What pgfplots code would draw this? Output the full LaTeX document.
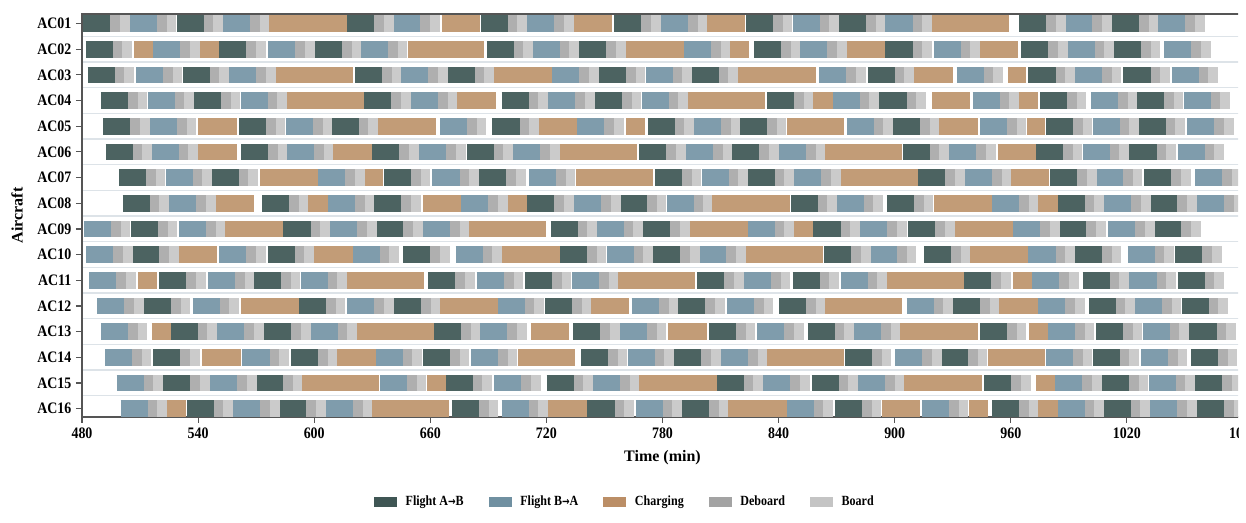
\documentclass[border=0pt]{standalone}
\usepackage{fontspec}
\setmainfont{Liberation Serif}
\newfontfamily\tickfont{Liberation Serif}[FakeStretch=0.87]
\newfontfamily\legfont{Liberation Serif}[FakeStretch=0.86]
\newfontfamily\arr{DejaVu Sans}[FakeStretch=0.8]
\usepackage{pgfplots}
\usepackage{pgfplotstable}
\pgfplotsset{compat=1.18}
\definecolor{cA}{HTML}{4C6361}
\definecolor{cB}{HTML}{7F9CAC}
\definecolor{cC}{HTML}{C29C77}
\definecolor{cD}{HTML}{AFAFAF}
\definecolor{cE}{HTML}{CBCBCB}
\definecolor{lA}{HTML}{3F5654}
\definecolor{lB}{HTML}{7090A1}
\definecolor{lC}{HTML}{BB8E66}
\definecolor{lD}{HTML}{A3A3A3}
\definecolor{lE}{HTML}{C4C4C4}
\definecolor{gridc}{HTML}{DDE3E8}
\definecolor{axc}{HTML}{555555}

% Flight A->B start times (min), duration 14
\pgfplotstableread[row sep=\\]{
y s \\
1 480.7 \\ 1 528.9 \\ 1 617.1 \\ 1 686.0 \\ 1 755.1 \\ 1 823.1 \\ 1 871.2 \\ 1 964.4 \\ 1 1012.3 \\
2 481.9 \\ 2 551.0 \\ 2 600.4 \\ 2 689.1 \\ 2 737.0 \\ 2 827.3 \\ 2 895.2 \\ 2 965.3 \\ 2 1013.2 \\
3 482.9 \\ 3 532.0 \\ 3 621.1 \\ 3 669.0 \\ 3 747.2 \\ 3 795.1 \\ 3 886.0 \\ 3 969.1 \\ 3 1018.2 \\
4 489.8 \\ 4 537.9 \\ 4 625.9 \\ 4 696.9 \\ 4 745.1 \\ 4 834.2 \\ 4 892.1 \\ 4 975.1 \\ 4 1025.2 \\
5 491.0 \\ 5 561.1 \\ 5 609.0 \\ 5 692.1 \\ 5 772.3 \\ 5 820.0 \\ 5 899.3 \\ 5 978.2 \\ 5 1026.1 \\
6 492.2 \\ 6 562.2 \\ 6 630.0 \\ 6 678.8 \\ 6 768.0 \\ 6 816.1 \\ 6 904.1 \\ 6 973.0 \\ 6 1021.3 \\
7 499.1 \\ 7 547.0 \\ 7 636.1 \\ 7 685.2 \\ 7 776.1 \\ 7 824.0 \\ 7 912.2 \\ 7 980.3 \\ 7 1029.0 \\
8 501.0 \\ 8 573.2 \\ 8 631.1 \\ 8 710.1 \\ 8 758.0 \\ 8 846.2 \\ 8 896.0 \\ 8 984.2 \\ 8 1032.1 \\
9 505.2 \\ 9 584.1 \\ 9 632.0 \\ 9 722.2 \\ 9 770.1 \\ 9 858.0 \\ 9 907.0 \\ 9 985.1 \\ 9 1034.2 \\
10 506.0 \\ 10 575.9 \\ 10 646.1 \\ 10 727.0 \\ 10 775.3 \\ 10 863.5 \\ 10 915.3 \\ 10 993.2 \\ 10 1045.0 \\
11 520.0 \\ 11 568.9 \\ 11 659.0 \\ 11 708.9 \\ 11 798.0 \\ 11 847.3 \\ 11 936.0 \\ 11 997.1 \\ 11 1046.2 \\
12 512.0 \\ 12 592.1 \\ 12 641.2 \\ 12 719.3 \\ 12 788.2 \\ 12 840.2 \\ 12 930.3 \\ 12 1000.2 \\ 12 1048.3 \\
13 525.8 \\ 13 574.1 \\ 13 661.9 \\ 13 733.9 \\ 13 804.0 \\ 13 855.0 \\ 13 944.1 \\ 13 1004.0 \\ 13 1052.3 \\
14 516.9 \\ 14 588.0 \\ 14 656.1 \\ 14 737.9 \\ 14 786.1 \\ 14 874.3 \\ 14 923.9 \\ 14 1002.3 \\ 14 1053.1 \\
15 522.0 \\ 15 569.9 \\ 15 667.9 \\ 15 720.1 \\ 15 808.0 \\ 15 857.1 \\ 15 946.3 \\ 15 1007.1 \\ 15 1055.2 \\
16 534.1 \\ 16 582.0 \\ 16 671.1 \\ 16 741.2 \\ 16 790.2 \\ 16 869.1 \\ 16 950.3 \\ 16 1008.0 \\ 16 1056.1 \\
}\flA

% Flight B->A start times (min), duration 14
\pgfplotstableread[row sep=\\]{
y s \\
1 504.8 \\ 1 553.0 \\ 1 640.9 \\ 1 710.1 \\ 1 779.2 \\ 1 847.3 \\ 1 895.2 \\ 1 988.2 \\ 1 1036.1 \\
2 516.9 \\ 2 576.3 \\ 2 624.2 \\ 2 712.9 \\ 2 791.1 \\ 2 851.1 \\ 2 920.1 \\ 2 989.4 \\ 2 1039.3 \\
3 507.9 \\ 3 556.0 \\ 3 644.9 \\ 3 723.1 \\ 3 771.3 \\ 3 861.0 \\ 3 932.0 \\ 3 993.2 \\ 3 1043.1 \\
4 513.9 \\ 4 562.0 \\ 4 650.0 \\ 4 721.0 \\ 4 769.2 \\ 4 867.9 \\ 4 940.3 \\ 4 1001.4 \\ 4 1049.3 \\
5 515.1 \\ 5 585.3 \\ 5 665.0 \\ 5 736.0 \\ 5 796.3 \\ 5 875.2 \\ 5 944.1 \\ 5 1002.3 \\ 5 1051.1 \\
6 516.0 \\ 6 586.1 \\ 6 654.2 \\ 6 702.9 \\ 6 792.1 \\ 6 840.2 \\ 6 928.2 \\ 6 997.1 \\ 6 1046.2 \\
7 523.2 \\ 7 602.1 \\ 7 661.1 \\ 7 711.0 \\ 7 800.2 \\ 7 848.1 \\ 7 936.3 \\ 7 1004.0 \\ 7 1055.2 \\
8 525.1 \\ 8 607.0 \\ 8 675.9 \\ 8 734.3 \\ 8 782.1 \\ 8 870.0 \\ 8 950.3 \\ 8 1008.3 \\ 8 1056.1 \\
9 481.0 \\ 9 530.1 \\ 9 608.2 \\ 9 656.1 \\ 9 746.0 \\ 9 824.0 \\ 9 882.1 \\ 9 961.3 \\ 9 1010.4 \\
10 482.1 \\ 10 551.0 \\ 10 619.9 \\ 10 673.1 \\ 10 751.1 \\ 10 799.0 \\ 10 887.2 \\ 10 969.1 \\ 10 1020.4 \\
11 483.8 \\ 11 545.0 \\ 11 593.0 \\ 11 684.0 \\ 11 733.1 \\ 11 822.1 \\ 11 872.1 \\ 11 971.0 \\ 11 1021.3 \\
12 487.9 \\ 12 537.2 \\ 12 617.1 \\ 12 694.8 \\ 12 764.1 \\ 12 813.2 \\ 12 906.2 \\ 12 974.2 \\ 12 1024.2 \\
13 489.8 \\ 13 549.9 \\ 13 598.2 \\ 13 685.8 \\ 13 758.0 \\ 13 829.0 \\ 13 879.1 \\ 13 979.1 \\ 13 1028.1 \\
14 491.9 \\ 14 562.9 \\ 14 631.8 \\ 14 681.0 \\ 14 762.0 \\ 14 810.1 \\ 14 900.2 \\ 14 978.2 \\ 14 1027.3 \\
15 497.9 \\ 15 546.2 \\ 15 634.0 \\ 15 693.1 \\ 15 744.2 \\ 15 832.1 \\ 15 881.1 \\ 15 983.0 \\ 15 1031.2 \\
16 500.0 \\ 16 558.2 \\ 16 606.1 \\ 16 696.9 \\ 16 766.1 \\ 16 844.2 \\ 16 914.1 \\ 16 984.2 \\ 16 1032.1 \\
}\flB

% Charging: start and duration (min)
\pgfplotstableread[row sep=\\]{
y s d \\
1 576.8 40.0 \\ 1 665.9 19.8 \\ 1 734.3 19.8 \\ 1 803.2 19.4 \\ 1 919.3 39.6 \\
2 507.1 9.8 \\ 2 541.0 10.0 \\ 2 648.3 39.4 \\ 2 761.1 30.0 \\ 2 814.9 10.0 \\ 2 875.2 19.8 \\ 2 944.1 19.8 \\
3 580.1 39.8 \\ 3 693.1 30.0 \\ 3 819.2 40.0 \\ 3 910.1 19.9 \\ 3 958.4 9.5 \\
4 586.1 39.8 \\ 4 674.0 19.8 \\ 4 793.0 40.0 \\ 4 858.0 9.9 \\ 4 919.3 19.8 \\ 4 964.1 10.1 \\
5 540.1 19.9 \\ 5 633.1 29.9 \\ 5 716.2 19.8 \\ 5 761.1 9.9 \\ 5 844.2 29.8 \\ 5 923.1 19.8 \\ 5 968.2 9.6 \\
6 540.1 19.9 \\ 6 609.9 20.1 \\ 6 727.0 39.6 \\ 6 864.0 39.8 \\ 6 953.2 19.8 \\
7 572.0 30.1 \\ 7 626.3 9.4 \\ 7 735.1 39.8 \\ 7 872.2 39.7 \\ 7 960.1 19.8 \\
8 549.1 19.8 \\ 8 597.0 10.0 \\ 8 656.1 19.8 \\ 8 700.0 10.1 \\ 8 805.7 40.2 \\ 8 920.1 30.2 \\ 8 974.2 10.0 \\
9 553.9 30.2 \\ 9 680.0 39.8 \\ 9 794.2 29.8 \\ 9 848.0 10.0 \\ 9 931.2 30.1 \\
10 530.1 19.8 \\ 10 600.1 19.8 \\ 10 697.2 29.8 \\ 10 823.2 39.9 \\ 10 939.1 30.0 \\
11 509.1 9.8 \\ 11 616.8 39.9 \\ 11 757.2 39.6 \\ 11 896.0 40.0 \\ 11 961.3 9.7 \\
12 562.2 29.9 \\ 12 665.0 29.8 \\ 12 743.0 19.9 \\ 12 864.0 39.8 \\ 12 954.1 20.1 \\
13 516.0 9.8 \\ 13 622.0 39.9 \\ 13 712.0 19.9 \\ 13 783.0 19.8 \\ 13 902.9 40.0 \\ 13 969.2 9.9 \\
14 542.2 19.8 \\ 14 611.9 19.9 \\ 14 705.2 29.6 \\ 14 834.2 39.6 \\ 14 948.0 29.8 \\
15 593.9 39.8 \\ 15 658.1 9.8 \\ 15 768.0 40.0 \\ 15 905.0 40.1 \\ 15 973.0 10.0 \\
16 524.1 9.6 \\ 16 630.0 39.8 \\ 16 721.0 19.8 \\ 16 814.0 30.2 \\ 16 893.3 19.8 \\ 16 938.2 9.8 \\ 16 974.2 10.0 \\
}\chg

\pgfplotsset{
  seg/.style={forget plot, draw=none, mark=none,
    error bars/.cd, x dir=plus, x explicit, error mark=none,
    error bar style={line width=12.5pt, line cap=butt, draw=#1}},
}

\begin{document}
\begin{tikzpicture}
\useasboundingbox (-61.5pt,-79.5pt) rectangle (873pt,312.75pt);
\clip (-61.5pt,-79.5pt) rectangle (867pt,312.75pt);
\begin{axis}[
  scale only axis, width=870.75pt, height=302.25pt,
  xmin=480, xmax=1080, ymin=0.625, ymax=16.325, y dir=reverse,
  xtick={480,540,...,1080},
  ytick={1,...,16},
  yticklabels={AC01,AC02,AC03,AC04,AC05,AC06,AC07,AC08,AC09,AC10,AC11,AC12,AC13,AC14,AC15,AC16},
  minor ytick={1.5,2.5,...,15.5},
  yminorgrids, minor grid style={draw=gridc, line width=1pt},
  minor tick length=0pt,
  tick align=outside, major tick length=4.5pt, tick pos=left,
  axis line style={draw=axc, line width=0.8pt},
  major tick style={draw=axc, line width=0.8pt},
  tick label style={font=\tickfont\bfseries\fontsize{12}{14}\selectfont},
  /pgf/number format/assume math mode=true,
  /pgf/number format/1000 sep={},
  xlabel={Time (min)}, ylabel={Aircraft},
  label style={font=\bfseries\fontsize{12}{14}\selectfont},
  xlabel style={at={(axis description cs:0.5,-0.1017)}, anchor=center},
  ylabel style={at={(axis description cs:-0.0560,0.5)}, anchor=center},
  legend columns=5,
  legend style={at={(0.4668,-0.2109)}, anchor=center, draw=none, fill=none,
    font=\legfont\bfseries\fontsize{10.5}{12}\selectfont,
    /tikz/every odd column/.style={column sep=6.75pt},
    /tikz/every even column/.style={column sep=18.75pt},
    nodes={inner xsep=0pt, inner ysep=1pt}},
]
\addplot[seg=cA] table[x=s, y=y, x error expr=14] {\flA};
\addplot[seg=cB] table[x=s, y=y, x error expr=14] {\flB};
\addplot[seg=cD] table[x expr=\thisrow{s}+14, y=y, x error expr=5] {\flA};
\addplot[seg=cD] table[x expr=\thisrow{s}+14, y=y, x error expr=5] {\flB};
\addplot[seg=cE] table[x expr=\thisrow{s}+19, y=y, x error expr=5] {\flA};
\addplot[seg=cE] table[x expr=\thisrow{s}+19, y=y, x error expr=5] {\flB};
\addplot[seg=cC] table[x=s, y=y, x error=d] {\chg};

\addlegendimage{legend image code/.code={\fill[lA] (0pt,-3.5pt) rectangle (16.5pt,3.5pt);}}
\addlegendentry{Flight A{\arr\fontsize{8.5}{10}\selectfont →}B}
\addlegendimage{legend image code/.code={\fill[lB] (0pt,-3.5pt) rectangle (16.5pt,3.5pt);}}
\addlegendentry{Flight B{\arr\fontsize{8.5}{10}\selectfont →}A}
\addlegendimage{legend image code/.code={\fill[lC] (0pt,-3.5pt) rectangle (16.5pt,3.5pt);}}
\addlegendentry{Charging}
\addlegendimage{legend image code/.code={\fill[lD] (0pt,-3.5pt) rectangle (16.5pt,3.5pt);}}
\addlegendentry{Deboard}
\addlegendimage{legend image code/.code={\fill[lE] (0pt,-3.5pt) rectangle (16.5pt,3.5pt);}}
\addlegendentry{Board}
\end{axis}
\end{tikzpicture}
\end{document}
